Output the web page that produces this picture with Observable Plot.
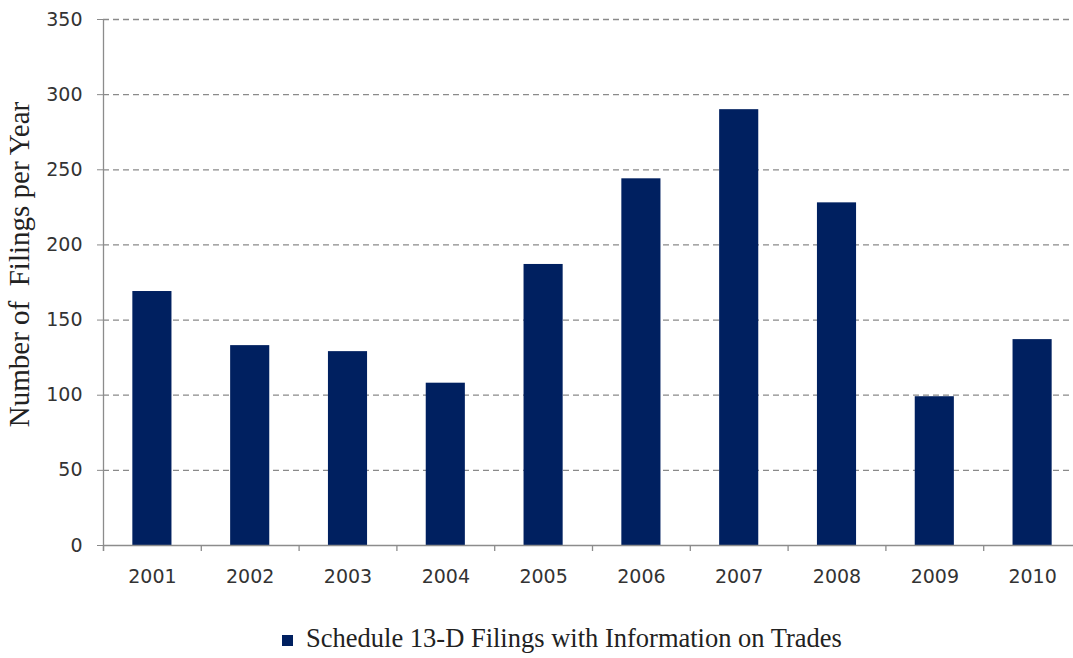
<!DOCTYPE html>
<html>
<head>
<meta charset="utf-8">
<script src="https://cdn.jsdelivr.net/npm/d3@7"></script>
<script src="https://cdn.jsdelivr.net/npm/@observablehq/plot@0.6"></script>
<style>
  html, body { margin: 0; padding: 0; background: #fff; overflow: hidden; }
  #wrap { position: relative; width: 1073px; height: 658px; overflow: hidden; }
  #chart svg { max-width: none !important; display: block; }
  #legend { position: absolute; left: 0; width: 1124px; top: 623px; text-align: center; white-space: nowrap;
    font-family: "Liberation Serif", "DejaVu Serif", serif; font-size: 26.5px; color: #222; }
  #legend .sw { display: inline-block; width: 11px; height: 11px; background: #002060; margin-right: 13px; vertical-align: 1px; }
</style>
</head>
<body>
<div id="wrap"><div id="chart"></div><div id="legend"><span class="sw"></span>Schedule 13-D Filings with Information on Trades</div></div>
<script>
const years = ["2001","2002","2003","2004","2005","2006","2007","2008","2009","2010"];
const filings = [169, 133, 129, 108, 187, 244, 290, 228, 99, 137];
const yTicks = [0, 50, 100, 150, 200, 250, 300, 350];
const seriesName = "Schedule 13-D Filings with Information on Trades";
const yTitle = "Number of  Filings per Year";

const data = years.map((y, i) => ({year: y, value: filings[i]}));

const W = 1090, mL = 103, mR = 9;
const step = (W - mL - mR) / years.length;
const axisGray = "#8c8c8c";
const sans = "'DejaVu Sans', Verdana, sans-serif";

const chart = Plot.plot({
  width: W,
  height: 600,
  marginLeft: mL,
  marginRight: mR,
  marginTop: 19,
  marginBottom: 55,
  style: {fontFamily: sans, background: "#fff", overflow: "visible", maxWidth: "none"},
  x: {domain: years, paddingInner: 0.6, paddingOuter: 0.3, round: false},
  y: {domain: [0, 350], ticks: yTicks},
  marks: [
    Plot.ruleY(yTicks.filter(d => d > 0), {y: d => d, stroke: "#8a8a8a", strokeDasharray: "6,4", strokeWidth: 1.3}),
    Plot.barY(data, {x: "year", y: "value", fill: "#002060"}),
    Plot.ruleY([0], {stroke: axisGray, strokeWidth: 1.3}),
    Plot.ruleX(years, {x: d => d, dx: -step / 2, y1: -4, y2: 0, stroke: axisGray, strokeWidth: 1.3}),
    Plot.ruleX([years[0]], {x: d => d, dx: -step / 2, y1: -4, y2: 350, stroke: axisGray, strokeWidth: 1.3}),
    Plot.axisY({ticks: yTicks, tickSize: 6, tickPadding: 15, fontSize: 19, fill: "#333", stroke: "#8a8a8a", label: null}),
    Plot.axisX({tickSize: 0, tickPadding: 24, fontSize: 19, fill: "#333", label: null}),
    Plot.text([yTitle], {frameAnchor: "left", text: d => d, rotate: -90, dx: -84, dy: -18, textAnchor: "middle",
      fontFamily: "'Liberation Serif', 'DejaVu Serif', serif", fontSize: 29, fill: "#222"})
  ]
});
document.getElementById("chart").appendChild(chart);
</script>
</body>
</html>
